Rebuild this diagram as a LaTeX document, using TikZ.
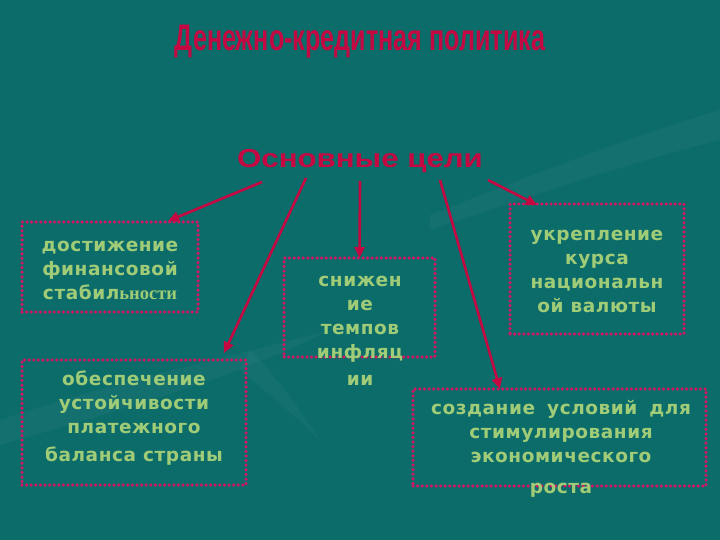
\documentclass[tikz,border=0pt]{standalone}
\usepackage{fontspec}
\setmainfont{Liberation Sans}
\newfontfamily\boxfont[LetterSpace=3]{DejaVu Sans}
\newfontfamily\serifb{Liberation Serif}
\usetikzlibrary{calc,arrows.meta}
\definecolor{bg}{RGB}{12,108,106}
\definecolor{crim}{RGB}{196,8,66}
\definecolor{txt}{RGB}{160,204,120}
\definecolor{dotc}{RGB}{215,20,100}
\begin{document}
\begin{tikzpicture}[x=1pt,y=-1pt,
  goalbox/.style={draw=dotc, line width=3.5pt, dash pattern=on 0pt off 4.6pt, line cap=round,
    inner sep=0pt, outer sep=0pt, rectangle},
  goaltext/.style={text=txt, align=center, inner sep=0pt,
    font=\boxfont\fontsize{18.5}{24}\selectfont\bfseries},
  link/.style={draw=crim, line width=2.6pt, -{Triangle[length=11pt,width=10pt]}}]
\useasboundingbox (0,0) rectangle (720,540);
\fill[bg] (0,0) rectangle (720,540);
% faint decorative swooshes
\fill[white, opacity=0.03] (0,420) .. controls (120,380) and (220,360) .. (330,330)
  .. controls (230,380) and (120,410) .. (0,445) -- cycle;
\fill[white, opacity=0.03] (250,350) .. controls (280,380) and (300,410) .. (320,440)
  .. controls (300,420) and (270,395) .. (240,370) -- cycle;
\fill[white, opacity=0.03] (430,215) .. controls (520,180) and (620,140) .. (720,110)
  -- (720,140) .. controls (620,165) and (520,200) .. (430,230) -- cycle;
% title
\node[font=\fontsize{37}{40}\selectfont\bfseries, text=crim] (title) at (360,42)
  {\scalebox{0.68}[1]{Денежно-кредитная политика}};
% subtitle
\node[font=\fontsize{26}{30}\selectfont\bfseries, text=crim] (sub) at (360,161)
  {\scalebox{1.2}[1]{Основные цели}};
% boxes
\node[goalbox, minimum width=176pt, minimum height=90pt] (b1) at (110,267) {};
\node[goalbox, minimum width=224pt, minimum height=125pt] (b2) at (134,422.5) {};
\node[goalbox, minimum width=151pt, minimum height=99pt] (b3) at (359.5,307.5) {};
\node[goalbox, minimum width=174pt, minimum height=130pt] (b4) at (597,269) {};
\node[goalbox, minimum width=293pt, minimum height=97pt] (b5) at (559.5,437.5) {};
% texts
\node[goaltext] (t1) at (110,270) {достижение\\финансовой\\стабил{\serifb\bfseries ьности}};
\node[goaltext] (t2) at (134,418) {обеспечение\\устойчивости\\платежного\\[4pt]баланса страны};
\node[goaltext] (t3) at (360,331) {снижен\\ие\\темпов\\инфляц\\[3pt]ии};
\node[goaltext] (t4) at (597,271) {укрепление\\курса\\национальн\\ой валюты};
\node[goaltext] (t5) at (561,449) {создание\hspace{12pt}условий\hspace{12pt}для\\стимулирования\\экономического\\[7pt]роста};
% connectors
\coordinate (s1) at (262,182);
\coordinate (s2) at (306,178);
\coordinate (s3) at (360,181);
\coordinate (s4) at (440,180);
\coordinate (s5) at (488,180);
\draw[link] (s1) -- ($(b1.north east)+(-30,-1)$);
\draw[link] (s2) -- ($(b2.north east)+(-22,-7)$);
\draw[link] (s3) -- (b3.north);
\draw[link] (s4) -- ($(b5.north west)+(87,0)$);
\draw[link] (s5) -- ($(b4.north west)+(27,1)$);
\end{tikzpicture}
\end{document}
